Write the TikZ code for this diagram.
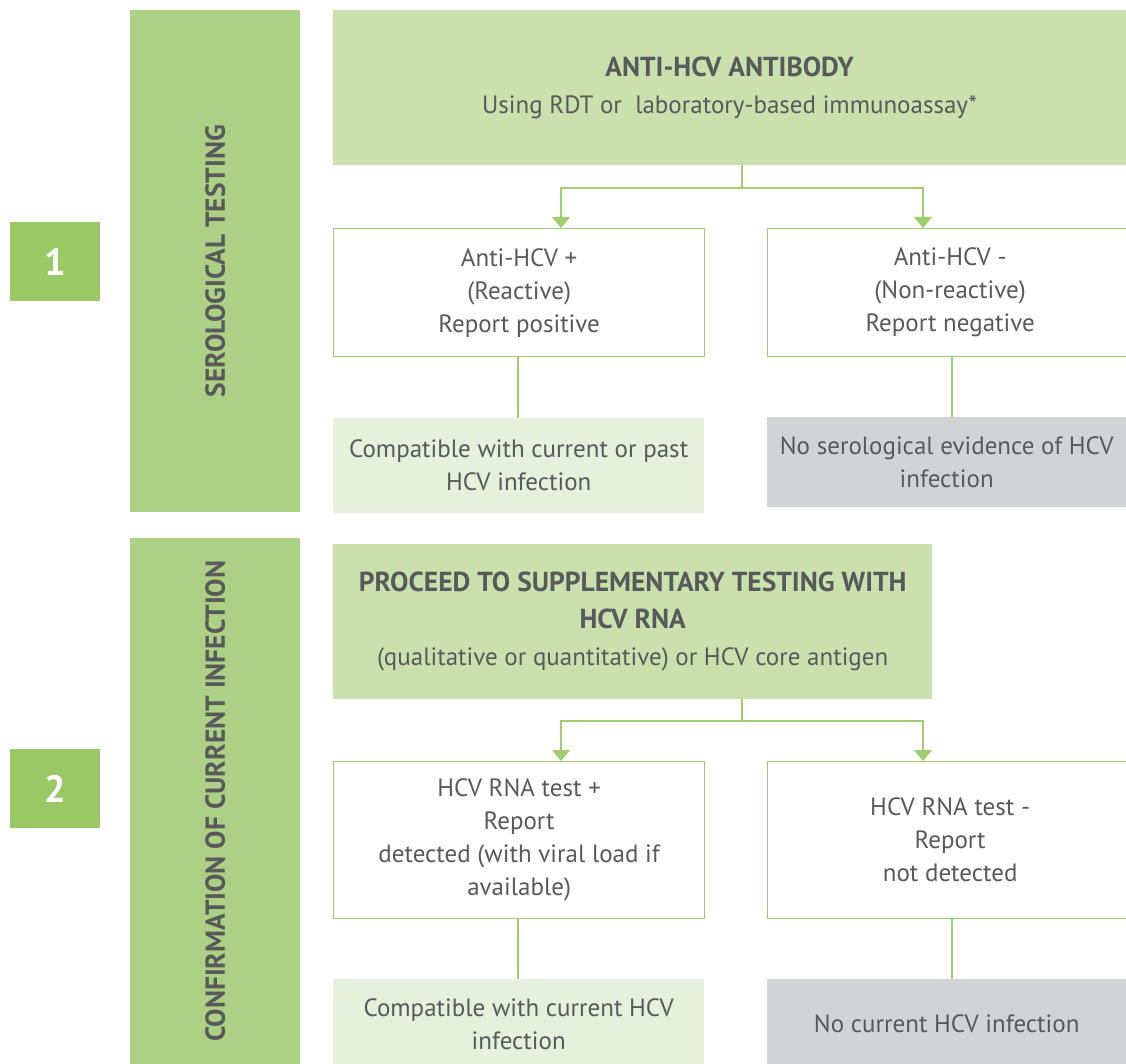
\documentclass[tikz,border=0pt]{standalone}
\usepackage{fontspec}
\setmainfont{PT Sans}
\usetikzlibrary{arrows.meta,positioning}

\definecolor{barGreen}{RGB}{172,208,132}
\definecolor{numGreen}{RGB}{154,200,100}
\definecolor{headGreen}{RGB}{202,225,173}
\definecolor{paleGreen}{RGB}{231,240,219}
\definecolor{resGray}{RGB}{209,211,212}
\definecolor{lineGreen}{RGB}{160,206,110}
\definecolor{txtGray}{RGB}{88,89,91}

\newcommand{\headfont}{\bfseries\fontsize{27.5}{37}\selectfont}

\tikzset{
  box/.style={anchor=north west, inner sep=0pt, align=center, text=txtGray,
    font=\fontsize{25}{33}\selectfont},
  numbox/.style={box, fill=numGreen, minimum width=90pt, minimum height=79pt,
    text=white, font=\bfseries\fontsize{38}{40}\selectfont},
  sidebar/.style={box, fill=barGreen, minimum width=170pt},
  sidetext/.style={rotate=90, text=txtGray, font=\bfseries\fontsize{27.5}{30}\selectfont},
  headbox/.style={box, fill=headGreen, font=\fontsize{25}{37}\selectfont},
  testbox/.style={box, draw=lineGreen, line width=1.3pt, fill=white},
  posbox/.style={box, fill=paleGreen},
  negbox/.style={box, fill=resGray},
  link/.style={draw=lineGreen, line width=1.6pt},
  arrowlink/.style={link, -{Triangle[width=18pt,length=11pt]}}
}

\begin{document}
\begin{tikzpicture}[x=1pt,y=-1pt]
\useasboundingbox (0,0) rectangle (1126,1064);

\node[numbox] (one) at (10,222) {1};
\node[numbox] (two) at (10,749) {2};

\node[sidebar, minimum height=502pt] (serobar) at (130,10) {};
\node[sidetext] (serolabel) at (serobar.center) {SEROLOGICAL TESTING};
\node[sidebar, minimum height=526pt] (confbar) at (130,538) {};
\node[sidetext] (conflabel) at (confbar.center) {CONFIRMATION OF CURRENT INFECTION};

\node[headbox, minimum width=793pt, minimum height=155pt] (antibody) at (333,10)
  {{\headfont ANTI-HCV ANTIBODY}\\Using RDT or\ \ laboratory-based immunoassay*};
\node[testbox, minimum width=371pt, minimum height=128pt] (antipos) at (333,228)
  {Anti-HCV +\\(Reactive)\\Report positive};
\node[testbox, minimum width=365pt, minimum height=128pt] (antineg) at (767,228)
  {Anti-HCV -\\(Non-reactive)\\Report negative};
\node[posbox, minimum width=371pt, minimum height=95pt] (pastinf) at (333,418)
  {Compatible with current or past\\HCV infection};
\node[negbox, minimum width=359pt, minimum height=90pt] (noevid) at (767,417)
  {No serological evidence of HCV\\infection};

\node[headbox, minimum width=599pt, minimum height=155pt] (proceed) at (333,544)
  {{\headfont PROCEED TO SUPPLEMENTARY TESTING WITH}\\{\headfont HCV RNA}\\(qualitative or quantitative) or HCV core antigen};
\node[testbox, minimum width=371pt, minimum height=157pt] (rnapos) at (333,761)
  {HCV RNA test +\\Report\\detected (with viral load if\\available)};
\node[testbox, minimum width=365pt, minimum height=157pt] (rnaneg) at (767,761)
  {HCV RNA test -\\Report\\not detected};
\node[posbox, minimum width=371pt, minimum height=90pt] (curinf) at (333,979)
  {Compatible with current HCV\\infection};
\node[negbox, minimum width=359pt, minimum height=90pt] (nocur) at (767,979)
  {No current HCV infection};

\coordinate (fork1) at (742,188);
\coordinate (fork2) at (742,721);

\draw[link] (antibody.south -| fork1) -- (fork1);
\draw[arrowlink] (fork1) -| (antipos.north -| 561,0);
\draw[arrowlink] (fork1) -| (antineg.north -| 923,0);
\draw[link] (antipos.south -| 518,0) -- (pastinf.north -| 518,0);
\draw[link] (antineg.south -| 952,0) -- (noevid.north -| 952,0);

\draw[link] (proceed.south -| fork2) -- (fork2);
\draw[arrowlink] (fork2) -| (rnapos.north -| 561,0);
\draw[arrowlink] (fork2) -| (rnaneg.north -| 923,0);
\draw[link] (rnapos.south -| 518,0) -- (curinf.north -| 518,0);
\draw[link] (rnaneg.south -| 952,0) -- (nocur.north -| 952,0);
\end{tikzpicture}
\end{document}
